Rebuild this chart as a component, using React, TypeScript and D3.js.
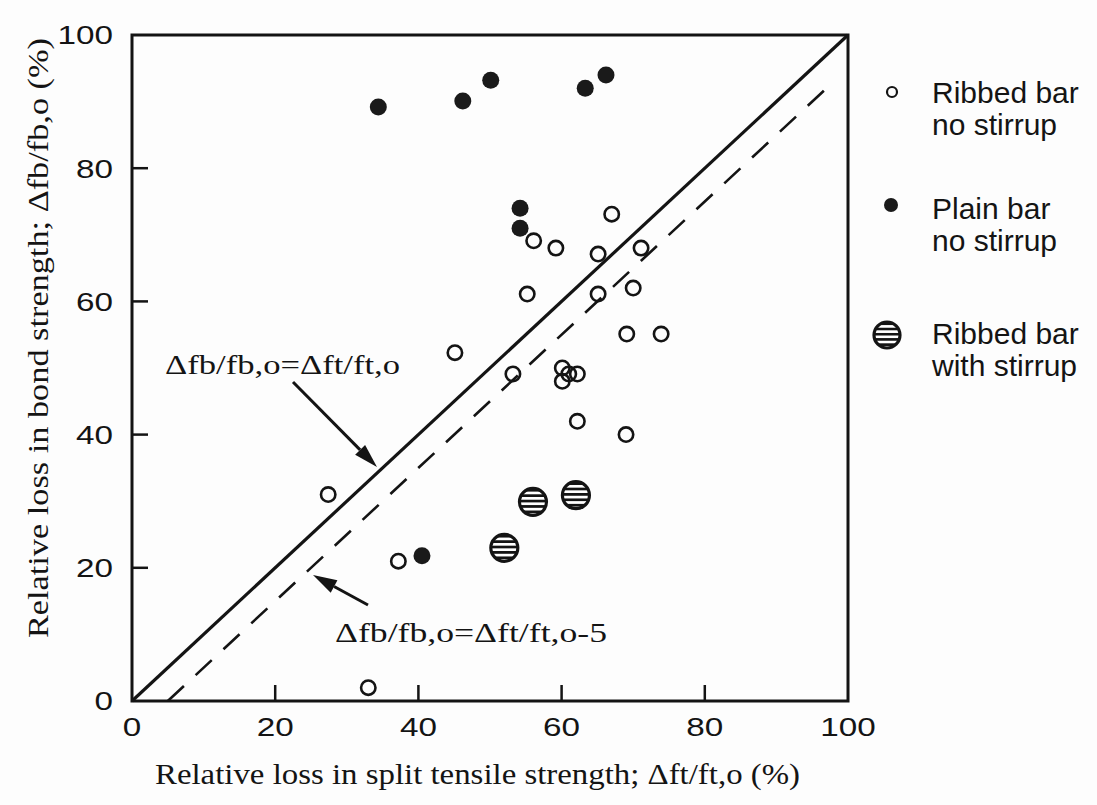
import React from 'react'
import * as d3 from 'd3'

// values (x = Δft/ft,o %, y = Δfb/fb,o %)
const ribbedNoStirrup: [number, number][] = [
  [27.4, 31], [33, 2], [37.2, 21], [45.1, 52.3], [53.2, 49.1], [55.2, 61.1],
  [56.1, 69.1], [59.2, 68], [60.1, 50], [60.1, 48], [61, 49.1], [62.2, 49.1],
  [62.2, 42], [65.1, 67.1], [65.1, 61.1], [67, 73.1], [69, 40], [69.1, 55.1],
  [70, 62], [71.1, 68], [73.9, 55.1],
]
const plainNoStirrup: [number, number][] = [
  [34.4, 89.2], [46.2, 90.1], [50.1, 93.2], [63.3, 92], [66.2, 94],
  [54.2, 74], [54.2, 71], [40.5, 21.8],
]
const ribbedWithStirrup: [number, number][] = [
  [56, 29.9], [62, 30.9], [52, 23],
]
const equalLine: [number, number][] = [[0, 0], [100, 100]]
const offsetLine: [number, number][] = [[5, 0], [97.5, 92.5]]
const tickValues = [0, 20, 40, 60, 80, 100]
const legendItems = [
  { kind: 'open', lines: ['Ribbed bar', 'no stirrup'] },
  { kind: 'filled', lines: ['Plain bar', 'no stirrup'] },
  { kind: 'hatch', lines: ['Ribbed bar', 'with stirrup'] },
]

const W = 1097
const H = 805
const margin = { left: 132, top: 35, right: 249, bottom: 104 }
const INK = '#141414'
const SANS = 'Arial, "Liberation Sans", Helvetica, sans-serif'
const SERIF = '"Times New Roman", "Liberation Serif", serif'

const x = d3.scaleLinear().domain([0, 100]).range([margin.left, W - margin.right])
const y = d3.scaleLinear().domain([0, 100]).range([H - margin.bottom, margin.top])
const line = d3.line<[number, number]>().x((d) => x(d[0])).y((d) => y(d[1]))

function Arrow({ x1, y1, x2, y2 }: { x1: number; y1: number; x2: number; y2: number }) {
  const a = Math.atan2(y2 - y1, x2 - x1)
  const len = 24
  const half = 7
  const bx = x2 - len * Math.cos(a)
  const by = y2 - len * Math.sin(a)
  const px = -Math.sin(a) * half
  const py = Math.cos(a) * half
  return (
    <g>
      <line x1={x1} y1={y1} x2={bx} y2={by} stroke={INK} strokeWidth={3} />
      <path d={`M${x2},${y2}L${bx + px},${by + py}L${bx - px},${by - py}Z`} fill={INK} />
    </g>
  )
}

function Hatched({ cx, cy, r }: { cx: number; cy: number; r: number }) {
  return <circle cx={cx} cy={cy} r={r} fill="url(#hatch)" stroke={INK} strokeWidth={3.2} />
}

export default function App() {
  const xTicks = tickValues
  const yTicks = tickValues
  return (
    <svg width={W} height={H} style={{ position: 'absolute', left: 0, top: 0, background: '#fdfdfd' }}>
      <defs>
        <pattern id="hatch" patternUnits="objectBoundingBox" patternContentUnits="objectBoundingBox" width={1} height={0.2} y={0.02}>
          <rect x={0} y={0} width={1} height={0.2} fill="#fff" />
          <rect x={0} y={0} width={1} height={0.1} fill={INK} />
        </pattern>
      </defs>

      {/* frame */}
      <rect x={x(0)} y={y(100)} width={x(100) - x(0)} height={y(0) - y(100)} fill="none" stroke={INK} strokeWidth={3} />

      {/* inward ticks */}
      {xTicks.filter((t) => t > 0 && t < 100).map((t) => (
        <line key={'xt' + t} x1={x(t)} x2={x(t)} y1={y(0)} y2={y(0) - 16} stroke={INK} strokeWidth={2.5} />
      ))}
      {yTicks.filter((t) => t > 0 && t < 100).map((t) => (
        <line key={'yt' + t} x1={x(0)} x2={x(0) + 16} y1={y(t)} y2={y(t)} stroke={INK} strokeWidth={2.5} />
      ))}

      {/* tick labels */}
      {xTicks.map((t) => (
        <text key={'xl' + t} x={x(t) - (String(t).length * 18.5) / 2} y={y(0) + 35} fontFamily={SANS} fontSize={26} fill={INK}
          textLength={String(t).length * 18.5} lengthAdjust="spacingAndGlyphs">{t}</text>
      ))}
      {yTicks.map((t) => (
        <text key={'yl' + t} x={113 - String(t).length * 18.5} y={y(t)} dy="0.36em" fontFamily={SANS} fontSize={26} fill={INK}
          textLength={String(t).length * 18.5} lengthAdjust="spacingAndGlyphs">{t}</text>
      ))}

      {/* axis titles */}
      <text x={155} y={784} fontFamily={SERIF} fontSize={29} fill={INK} textLength={645} lengthAdjust="spacingAndGlyphs">
        Relative loss in split tensile strength; Δft/ft,o (%)
      </text>
      <text transform="translate(48,338) rotate(-90)" x={-300} fontFamily={SERIF} fontSize={29} fill={INK} textLength={600} lengthAdjust="spacingAndGlyphs">
        Relative loss in bond strength; Δfb/fb,o (%)
      </text>

      {/* reference lines */}
      <path d={line(equalLine) || ''} fill="none" stroke={INK} strokeWidth={3.2} />
      <path d={line(offsetLine) || ''} fill="none" stroke={INK} strokeWidth={2.6} strokeDasharray="22 16" />

      {/* data */}
      {ribbedNoStirrup.map((d, i) => (
        <circle key={'o' + i} cx={x(d[0])} cy={y(d[1])} r={7.2} fill="none" stroke={INK} strokeWidth={2.6} />
      ))}
      {plainNoStirrup.map((d, i) => (
        <circle key={'f' + i} cx={x(d[0])} cy={y(d[1])} r={8.5} fill="#1a1a1a" />
      ))}
      {ribbedWithStirrup.map((d, i) => (
        <Hatched key={'h' + i} cx={x(d[0])} cy={y(d[1])} r={13.5} />
      ))}

      {/* annotations */}
      <text x={165} y={374} fontFamily={SERIF} fontSize={28} fill={INK} textLength={235} lengthAdjust="spacingAndGlyphs">Δfb/fb,o=Δft/ft,o</text>
      <Arrow x1={293} y1={382} x2={377} y2={467} />
      <text x={335} y={642} fontFamily={SERIF} fontSize={28} fill={INK} textLength={272} lengthAdjust="spacingAndGlyphs">Δfb/fb,o=Δft/ft,o-5</text>
      <Arrow x1={368} y1={605} x2={313} y2={575} />

      {/* legend */}
      {legendItems.map((item, i) => {
        const cy = [92, 208, 333][i]
        return (
          <g key={'lg' + i}>
            {item.kind === 'open' && <circle cx={892} cy={cy} r={5} fill="none" stroke={INK} strokeWidth={2.2} />}
            {item.kind === 'filled' && <circle cx={891} cy={cy - 3} r={7} fill="#1a1a1a" />}
            {item.kind === 'hatch' && <Hatched cx={887} cy={cy + 2} r={13} />}
            {item.lines.map((s, j) => (
              <text key={j} x={932} y={cy + j * 32} dy="0.35em" fontFamily={SANS} fontSize={30} fill={INK}>{s}</text>
            ))}
          </g>
        )
      })}
    </svg>
  )
}
